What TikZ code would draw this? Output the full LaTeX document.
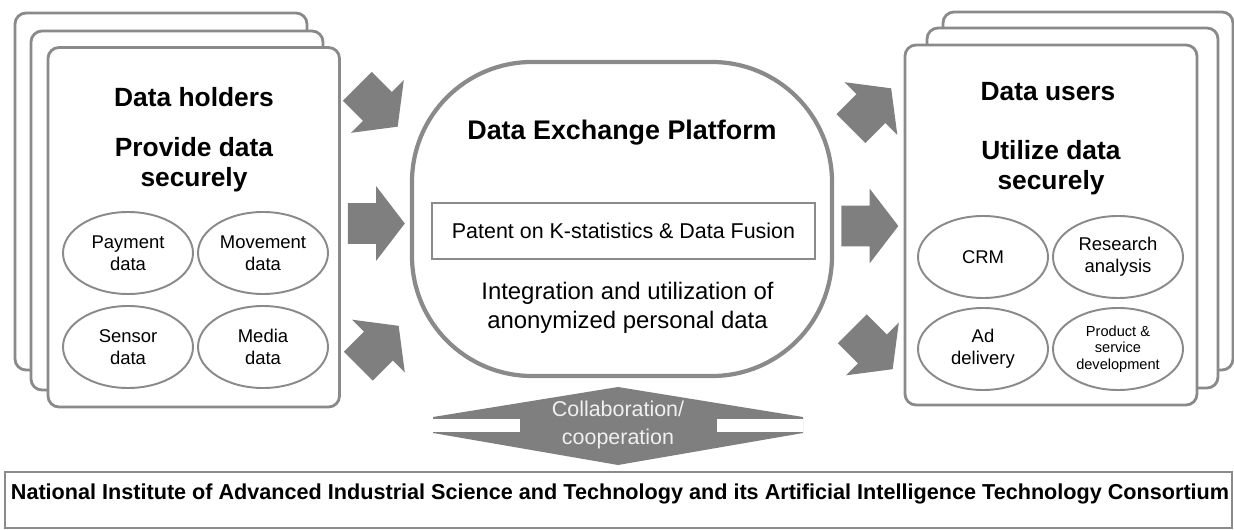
\documentclass[tikz,border=0pt]{standalone}
\usepackage{fontspec}
\setmainfont{Liberation Sans}
\usetikzlibrary{shapes.geometric, shapes.arrows, positioning}

\definecolor{boxgray}{HTML}{8A8A8A}
\definecolor{arrowgray}{HTML}{7F7F7F}
\definecolor{softwhite}{HTML}{F0F0F0}

\tikzset{
    card/.style={draw=boxgray, line width=1.6pt, rounded corners=0.22cm, fill=white},
    blob/.style={ellipse, draw=boxgray, line width=1.1pt, minimum width=2.6cm, minimum height=1.64cm, inner sep=0pt, align=center, font=\fontsize{10.5}{12.3}\selectfont},
    heading/.style={align=center, font=\bfseries\fontsize{15}{17}\selectfont},
    fatarrow/.style={single arrow, fill=arrowgray, inner xsep=0pt, inner ysep=0.4cm, single arrow head extend=0.34cm, single arrow tip angle=105, minimum height=1.14cm},
}

\begin{document}
\begin{tikzpicture}
        \useasboundingbox (0,0) rectangle (24.68,-10.6);
        % data holders
        \draw[card] (0.30,-0.26) rectangle (6.14,-7.40);
        \draw[card] (0.62,-0.62) rectangle (6.46,-7.80);
        \draw[card] (0.96,-0.95) rectangle (6.79,-8.14);
        \node[heading] (holders) at (3.88,-1.94) {Data holders};
        \node[heading] (provide) at (3.88,-3.30) {Provide data\\securely};
        \node[blob] (payment) at (2.56,-5.06) {Payment\\data};
        \node[blob] (movement) at (5.26,-5.06) {Movement\\data};
        \node[blob] (sensor) at (2.56,-6.94) {Sensor\\data};
        \node[blob] (media) at (5.26,-6.94) {Media\\data};
        % data users
        \draw[card] (18.86,-0.24) rectangle (24.66,-7.40);
        \draw[card] (18.54,-0.56) rectangle (24.36,-7.76);
        \draw[card] (18.10,-0.90) rectangle (23.94,-8.10);
        \node[heading] (users) at (20.96,-1.84) {Data users};
        \node[heading] (utilize) at (21.02,-3.36) {Utilize data\\securely};
        \node[blob] (crm) at (19.66,-5.14) {CRM};
        \node[blob] (research) at (22.36,-5.14) {Research\\analysis};
        \node[blob] (ad) at (19.66,-6.98) {Ad\\delivery};
        \node[blob, font=\fontsize{8.3}{9.5}\selectfont] (product) at (22.36,-6.98) {Product \&\\service\\development};
        % platform
        \node[draw=boxgray, line width=2.4pt, rounded corners=2.4cm, minimum width=8.4cm, minimum height=6.28cm] (platform) at (12.44,-4.38) {};
        \node[font=\bfseries\fontsize{15.3}{17}\selectfont] (exchange) at (12.44,-2.66) {Data Exchange Platform};
        \node[draw=boxgray, line width=1pt, minimum width=7.66cm, minimum height=1.12cm, font=\fontsize{12.2}{14}\selectfont] (patent) at (12.47,-4.62) {Patent on K-statistics \& Data Fusion};
        \node[align=center, font=\fontsize{13.6}{16.4}\selectfont] (integration) at (12.55,-6.15) {Integration and utilization of\\anonymized personal data};
        % arrows
        \node[fatarrow, rotate=-45] (inTop) at (7.44,-2.02) {};
        \node[fatarrow] (inMid) at (7.37,-4.47) {};
        \node[fatarrow, rotate=45] (inLow) at (7.46,-7.03) {};
        \node[fatarrow, rotate=45] (outTop) at (17.31,-2.28) {};
        \node[fatarrow] (outMid) at (17.24,-4.52) {};
        \node[fatarrow, rotate=-45] (outLow) at (17.34,-6.87) {};
        % collaboration
        \fill[arrowgray] (8.66,-8.34) -- (12.36,-7.74) -- (16.06,-8.34) -- (16.06,-8.66) -- (12.36,-9.30) -- (8.66,-8.66) -- cycle;
        \fill[white] (8.66,-8.37) rectangle (10.40,-8.63);
        \fill[white] (14.34,-8.37) rectangle (16.06,-8.63);
        \node[align=center, text=softwhite, font=\fontsize{12.2}{15.9}\selectfont] (collab) at (12.36,-8.50) {Collaboration/\\cooperation};
        % institute
        \draw[boxgray, line width=1.3pt] (0.10,-9.44) rectangle (24.64,-10.56);
        \node[font=\bfseries\fontsize{12.3}{14}\selectfont] (aist) at (12.40,-9.88) {National Institute of Advanced Industrial Science and Technology and its Artificial Intelligence Technology Consortium};
\end{tikzpicture}
\end{document}
